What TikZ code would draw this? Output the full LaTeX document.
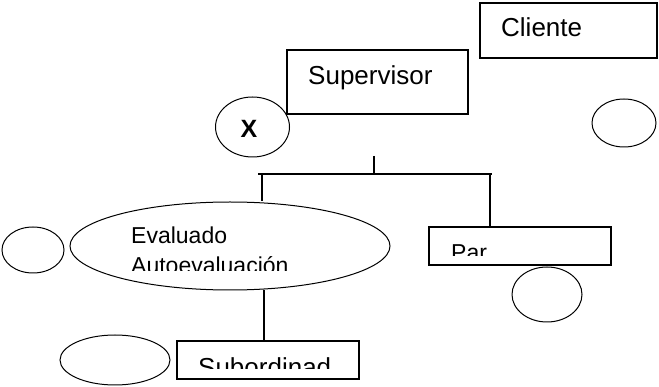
\documentclass[tikz,border=0pt]{standalone}
\usepackage{fontspec}
\setmainfont{Liberation Sans}
\usetikzlibrary{shapes.geometric}

\tikzset{
  box/.style={draw, line width=1.2pt, rectangle, inner sep=0pt},
  oval/.style={draw, line width=1pt, ellipse, inner sep=0pt},
  lbl/.style={inner sep=0pt, anchor=base west},
  big/.style={font=\fontsize{26}{30}\selectfont},
  mid/.style={font=\fontsize{23}{27}\selectfont},
  link/.style={line width=1.1pt}
}

\begin{document}
\begin{tikzpicture}[x=1pt, y=-1pt]
                    \useasboundingbox (0,0) rectangle (659,387);
                    % boxes
                    \node[box, minimum width=177pt, minimum height=55pt] (cli) at (568.5,30.5) {};
                    \node[box, minimum width=181pt, minimum height=64pt] (sup) at (377.5,82) {};
                    \node[box, minimum width=182pt, minimum height=38pt] (par) at (520,246) {};
                    \node[box, minimum width=182pt, minimum height=38pt] (sub) at (268,360) {};
                    % ovals
                    \node[oval, minimum width=320pt, minimum height=88pt] (ev) at (230,246) {};
                    \node[oval, minimum width=74pt, minimum height=60pt] (cx) at (252.5,127) {};
                    \node[oval, minimum width=64pt, minimum height=48pt] (cr) at (624,123) {};
                    \node[oval, minimum width=62pt, minimum height=46pt] (cl) at (33,250) {};
                    \node[oval, minimum width=70pt, minimum height=55pt] (cp) at (547,294.5) {};
                    \node[oval, minimum width=110pt, minimum height=50pt] (cs) at (115,360) {};
                    % texts
                    \node[lbl, big] (tcli) at (501,37) {Cliente};
                    \node[lbl, big] (tsup) at (308,85) {Supervisor};
                    \node[inner sep=0pt, font=\fontsize{25}{30}\selectfont\bfseries] (tx) at (249,129) {X};
                    \node[lbl, mid] (tev) at (131,244) {Evaluado};
                    \begin{scope}
                      \clip (120,250) rectangle (320,271);
                      \node[lbl, mid] (tauto) at (131,274) {Autoevaluación};
                    \end{scope}
                    \begin{scope}
                      \clip (440,230) rectangle (600,256);
                      \node[lbl, mid] (tpar) at (451,260.5) {Par};
                    \end{scope}
                    \begin{scope}
                      \clip (185,345) rectangle (350,369);
                      \node[lbl, big] (tsub) at (198,377) {Subordinad};
                    \end{scope}
                    % connectors
                    \coordinate (top) at (374,156);
                    \coordinate (mid) at (374,174);
                    \coordinate (bl) at (258,174);
                    \coordinate (br) at (492,174);
                    \coordinate (dl) at (262,174);
                    \coordinate (dr) at (490,174);
                    \coordinate (es) at (264,290);
                    \draw[link] (top) -- (mid);
                    \draw[line width=1.8pt] (bl) -- (br);
                    \draw[link] (dl) -- (dl |- ev.north);
                    \draw[link] (dr) -- (dr |- par.north);
                    \draw[link] (es) -- (es |- sub.north);
                \end{tikzpicture}
\end{document}
